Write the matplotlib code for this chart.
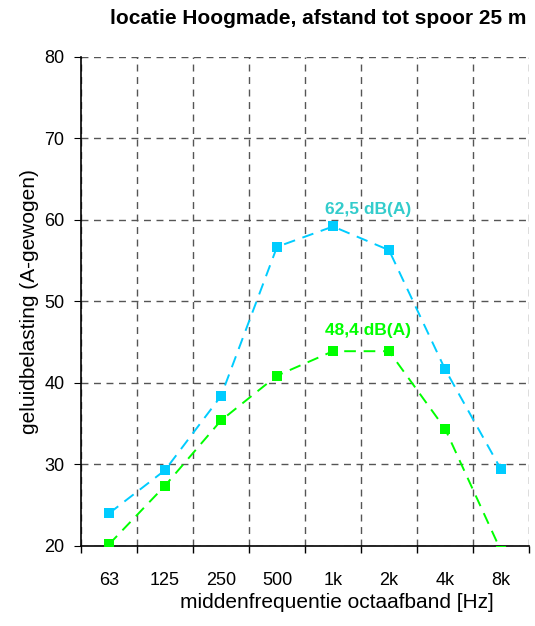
import matplotlib
matplotlib.use('Agg')
import matplotlib.pyplot as plt
import numpy as np

plt.rcParams['font.family'] = ['Liberation Sans', 'DejaVu Sans']

bands = ['63', '125', '250', '500', '1k', '2k', '4k', '8k']
level_total = [24.0, 29.3, 38.4, 56.7, 59.2, 56.3, 41.7, 29.4]
level_other = [20.2, 27.4, 35.4, 40.9, 43.9, 43.9, 34.4, 19.4]
label_total = '62,5 dB(A)'
label_other = '48,4 dB(A)'

cyan = '#00CCFF'
cyan_txt = '#33CCCC'
green = '#00FF00'
grid_col = '#555555'

fig = plt.figure(figsize=(5.35, 6.26), dpi=100)
ax = fig.add_axes([0.1514, 0.1278, 0.8374, 0.7812])

x = np.arange(len(bands))
ax.plot(x, level_total, color=cyan, lw=1.4, dashes=(6, 4), marker='s', ms=6.5,
        mew=0, zorder=3)
ax.plot(x, level_other, color=green, lw=1.4, dashes=(6, 4), marker='s', ms=6.5,
        mew=0, zorder=3)

ax.set_xlim(-0.5, len(bands) - 0.5)
ax.set_ylim(20, 80)
ax.set_yticks(np.arange(20, 81, 10))
ax.set_xticks(x)
ax.set_xticklabels(bands)
ax.set_xticks(np.arange(-0.5, len(bands)), minor=True)
ax.tick_params(axis='x', which='major', length=0, pad=19, labelsize=13)
ax.tick_params(axis='x', which='minor', length=5, direction='out', width=1)
ax.tick_params(axis='y', length=5, direction='out', labelsize=13, pad=7)

ax.grid(True, axis='x', which='minor', color=grid_col, linestyle=(0, (5, 4)), lw=1)
ax.grid(True, axis='y', which='major', color=grid_col, linestyle=(0, (5, 4)), lw=1)
ax.set_axisbelow(True)

for s in ['top', 'right']:
    ax.spines[s].set_visible(False)
ax.spines['left'].set_linewidth(1.2)
ax.spines['bottom'].set_linewidth(1.2)

ax.text(4.63, 60.7, label_total, color=cyan_txt, fontsize=12.5,
        fontweight='bold', ha='center', va='baseline')
ax.text(4.63, 45.9, label_other, color=green, fontsize=12.5,
        fontweight='bold', ha='center', va='baseline')

ax.set_ylabel('geluidbelasting (A-gewogen)', fontsize=15, labelpad=4)
fig.text(0.63, 0.029, 'middenfrequentie octaafband [Hz]', fontsize=15, ha='center')
fig.text(0.594, 0.971, 'locatie Hoogmade, afstand tot spoor 25 m', fontsize=15,
         fontweight='bold', ha='center', va='center')

fig.savefig('out.png', dpi=100)
